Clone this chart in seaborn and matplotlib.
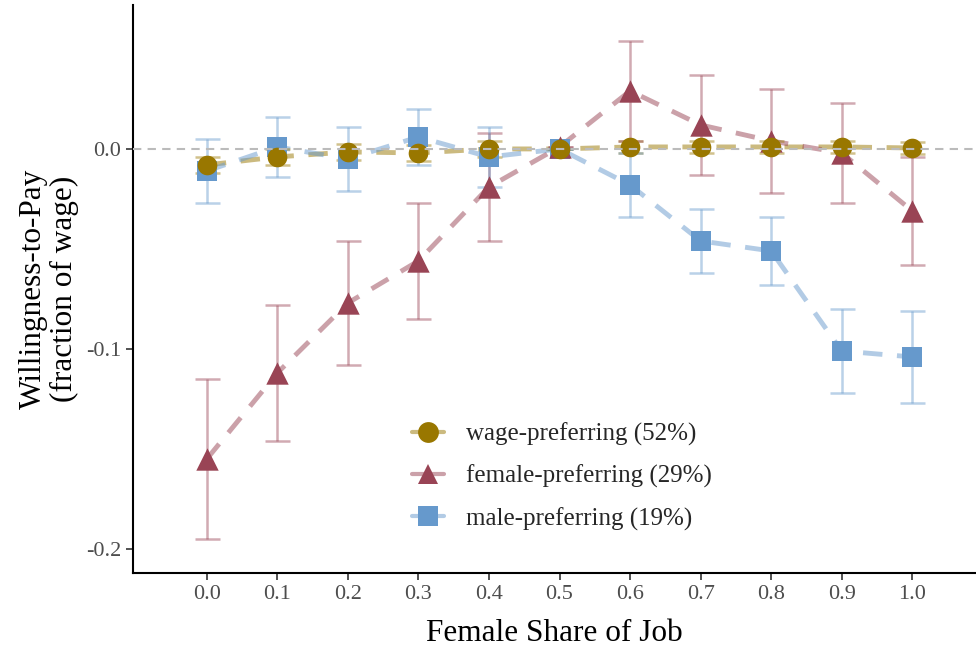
import numpy as np
import pandas as pd
import matplotlib
matplotlib.use("Agg")
import matplotlib.pyplot as plt
from matplotlib.lines import Line2D
import seaborn as sns

# ---------------------------------------------------------------------------
# Data
# ---------------------------------------------------------------------------
share = [0.0, 0.1, 0.2, 0.3, 0.4, 0.5, 0.6, 0.7, 0.8, 0.9, 1.0]

wage_wtp = [-0.008, -0.004, -0.0015, -0.002, 0.0, 0.0, 0.001, 0.001, 0.001, 0.001, 0.0005]
wage_err = [0.004, 0.004, 0.004, 0.004, 0.004, 0.0, 0.003, 0.003, 0.003, 0.003, 0.003]

female_wtp = [-0.155, -0.112, -0.077, -0.056, -0.019, 0.001, 0.029, 0.012, 0.004, -0.002, -0.031]
female_err = [0.040, 0.034, 0.031, 0.029, 0.027, 0.0, 0.025, 0.025, 0.026, 0.025, 0.027]

male_wtp = [-0.011, 0.001, -0.005, 0.006, -0.004, 0.0, -0.018, -0.046, -0.051, -0.101, -0.104]
male_err = [0.016, 0.015, 0.016, 0.014, 0.015, 0.0, 0.016, 0.016, 0.017, 0.021, 0.023]

groups = ["wage-preferring (52%)", "female-preferring (29%)", "male-preferring (19%)"]
colors = {"wage-preferring (52%)": "#997700",
          "female-preferring (29%)": "#994455",
          "male-preferring (19%)": "#6699CC"}
markers = {"wage-preferring (52%)": "o",
           "female-preferring (29%)": "^",
           "male-preferring (19%)": "s"}
msizes = {"wage-preferring (52%)": 200,
          "female-preferring (29%)": 260,
          "male-preferring (19%)": 190}

df = pd.DataFrame({
    "share": share * 3,
    "wtp": wage_wtp + female_wtp + male_wtp,
    "err": wage_err + female_err + male_err,
    "group": np.repeat(groups, len(share)),
})

# ---------------------------------------------------------------------------
# Style
# ---------------------------------------------------------------------------
sns.set_style("ticks")
plt.rcParams["font.family"] = ["Liberation Serif", "DejaVu Serif"]
plt.rcParams["axes.unicode_minus"] = False

fig = plt.figure(figsize=(9.76, 6.47), dpi=100)
ax = fig.add_axes([0.136, 0.1144, 0.863, 0.878])

# dashed connecting lines
for g in groups:
    sub = df[df["group"] == g]
    sns.lineplot(data=sub, x="share", y="wtp", color=colors[g], alpha=0.5,
                 linewidth=3.5, ax=ax, legend=False, zorder=2)
for l in ax.get_lines():
    l.set_dashes((4, 3))

# error bars
for g in groups:
    sub = df[df["group"] == g]
    ax.errorbar(sub["share"], sub["wtp"], yerr=sub["err"], fmt="none",
                ecolor=colors[g], alpha=0.45, elinewidth=1.8, capsize=9,
                capthick=1.8, zorder=3)

# markers (wage on top)
for g in ["male-preferring (19%)", "female-preferring (29%)", "wage-preferring (52%)"]:
    sub = df[df["group"] == g]
    sns.scatterplot(data=sub, x="share", y="wtp", color=colors[g],
                    marker=markers[g], s=msizes[g], linewidth=0, ax=ax,
                    legend=False, zorder=4)

ax.axhline(0, color="#BBBBBB", linestyle=(0, (4, 3)), linewidth=1.5, zorder=5)

ax.set_xlim(-0.105, 1.089)
ax.set_ylim(-0.212, 0.072)
ax.set_xticks(share)
ax.set_xticklabels([f"{v:.1f}" for v in share])
ax.set_yticks([0.0, -0.1, -0.2])
ax.set_yticklabels(["0.0", "-0.1", "-0.2"])
ax.tick_params(labelsize=16, labelcolor="#4D4D4D", color="#333333",
               length=5, width=1.2)

ax.set_xlabel("Female Share of Job", fontsize=22.5, color="black", labelpad=11)
ax.set_ylabel("Willingness-to-Pay\n(fraction of wage)", fontsize=22.5,
              color="black", labelpad=5, linespacing=1.1)

sns.despine(ax=ax)
for side in ["left", "bottom"]:
    ax.spines[side].set_linewidth(1.5)
    ax.spines[side].set_color("black")

handles = []
for g in groups:
    h = Line2D([], [], color=matplotlib.colors.to_rgba(colors[g], 0.5),
               marker=markers[g], markersize=15, markeredgewidth=0,
               linewidth=3, markerfacecolor=colors[g])
    handles.append(h)
leg = ax.legend(handles, groups, loc="upper left", bbox_to_anchor=(0.32, 0.282),
                frameon=False, fontsize=18, handlelength=1.25,
                labelspacing=0.75, handletextpad=0.9, borderaxespad=0)

fig.savefig("out.png", dpi=100)
